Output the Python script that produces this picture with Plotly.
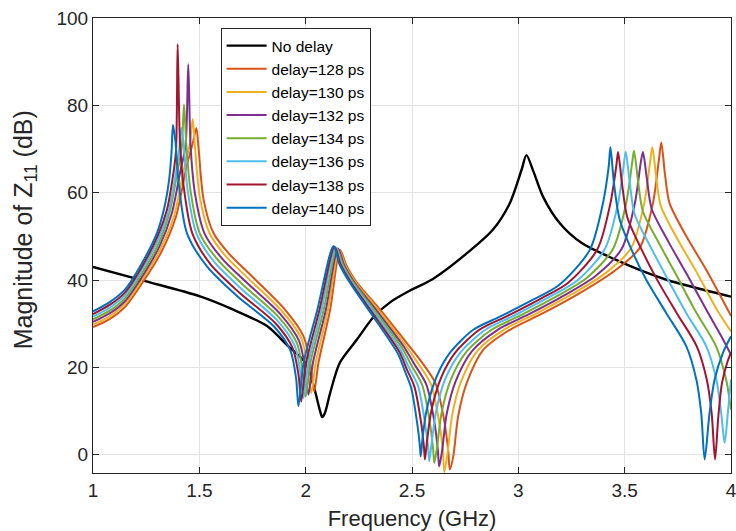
import plotly.graph_objects as go

# frequency (GHz) / magnitude (dB)
freq_nodelay = [1.000, 1.250, 1.500, 1.660, 1.820, 1.910, 2.000, 2.040, 2.065, 2.078, 2.090, 2.115, 2.160, 2.240,
                2.320, 2.400, 2.480, 2.600, 2.760, 2.880, 2.960, 3.015, 3.038, 3.070, 3.116, 3.195, 3.300, 3.460,
                3.570, 3.700, 3.850, 4.000]
mag_nodelay = [43.0, 39.7, 36.3, 33.2, 29.4, 25.2, 21.0, 15.3, 10.5, 8.6, 9.5, 14.1, 21.0, 26.3,
               31.6, 35.0, 37.3, 40.3, 46.2, 51.5, 57.6, 65.2, 68.6, 65.0, 59.1, 53.0, 48.4, 44.6,
               42.3, 40.0, 38.0, 36.2]

freq_128 = [1.000, 1.080, 1.150, 1.230, 1.320, 1.390, 1.440, 1.470, 1.486, 1.497, 1.520, 1.567, 1.640, 1.740,
            1.896, 1.990, 2.021, 2.040, 2.060, 2.115, 2.162, 2.190, 2.232, 2.350, 2.475, 2.538, 2.610, 2.648,
            2.670, 2.678, 2.694, 2.717, 2.757, 2.835, 2.960, 3.116, 3.289, 3.450, 3.570, 3.633, 3.661, 3.672,
            3.690, 3.711, 3.790, 3.884, 4.000]
mag_128 = [29.2, 31.1, 33.8, 39.2, 46.3, 54.5, 66.0, 71.5, 74.8, 69.8, 58.4, 50.7, 46.0, 41.2,
           33.6, 27.1, 21.0, 14.5, 21.0, 33.2, 46.9, 43.5, 40.0, 33.2, 25.6, 21.7, 16.4, 8.8,
           1.1, -3.4, -0.4, 8.8, 16.4, 24.0, 28.6, 32.4, 37.0, 42.0, 47.3, 57.6, 67.5, 71.5,
           64.0, 57.6, 50.0, 42.3, 31.8]

freq_130 = [1.000, 1.080, 1.150, 1.228, 1.317, 1.382, 1.428, 1.455, 1.469, 1.480, 1.502, 1.548, 1.623, 1.730,
            1.888, 1.980, 2.008, 2.026, 2.047, 2.105, 2.157, 2.185, 2.228, 2.345, 2.468, 2.523, 2.588, 2.624,
            2.645, 2.652, 2.667, 2.689, 2.730, 2.809, 2.931, 3.082, 3.252, 3.407, 3.529, 3.592, 3.620, 3.630,
            3.648, 3.670, 3.748, 3.837, 3.936, 4.000]
mag_130 = [29.8, 31.75, 34.47, 39.83, 47.03, 54.83, 65.5, 71.1, 76.9, 70.17, 59.03, 50.7, 45.52, 40.37,
           32.9, 26.58, 20.42, 14.1, 21.0, 33.2, 47.0, 43.5, 39.88, 32.93, 25.17, 21.3, 16.25, 8.5,
           1.25, -4.0, 0.33, 9.05, 16.65, 23.88, 28.6, 32.27, 36.75, 41.47, 47.23, 57.6, 67.25, 70.4,
           63.67, 56.97, 49.37, 41.92, 33.0, 28.2]

freq_132 = [1.000, 1.080, 1.150, 1.227, 1.313, 1.370, 1.411, 1.435, 1.448, 1.459, 1.480, 1.524, 1.605, 1.720,
            1.881, 1.969, 1.997, 2.013, 2.034, 2.095, 2.152, 2.180, 2.224, 2.339, 2.462, 2.509, 2.567, 2.603,
            2.621, 2.628, 2.642, 2.663, 2.706, 2.783, 2.903, 3.048, 3.216, 3.363, 3.486, 3.548, 3.576, 3.586,
            3.604, 3.627, 3.706, 3.790, 3.886, 3.950, 4.000]
mag_132 = [30.4, 32.4, 35.13, 40.47, 47.77, 55.17, 65.0, 70.7, 89.4, 70.53, 59.67, 50.7, 45.03, 39.53,
           32.2, 26.07, 19.83, 13.7, 21.0, 33.2, 47.2, 43.5, 39.77, 32.67, 24.73, 20.9, 16.1, 8.2,
           1.4, -2.7, 1.07, 9.3, 16.9, 23.77, 28.6, 32.13, 36.5, 40.93, 47.17, 57.6, 67.0, 69.3,
           63.33, 56.33, 48.73, 41.53, 33.0, 27.5, 22.9]

freq_134 = [1.000, 1.080, 1.150, 1.225, 1.310, 1.360, 1.396, 1.417, 1.428, 1.439, 1.459, 1.502, 1.588, 1.710,
            1.873, 1.959, 1.985, 2.000, 2.022, 2.085, 2.146, 2.175, 2.221, 2.334, 2.455, 2.497, 2.548, 2.582,
            2.599, 2.605, 2.618, 2.639, 2.682, 2.757, 2.874, 3.015, 3.179, 3.320, 3.445, 3.507, 3.535, 3.544,
            3.562, 3.586, 3.665, 3.743, 3.836, 3.930, 3.977, 4.000]
mag_134 = [31.0, 33.05, 35.8, 41.1, 48.5, 55.5, 64.5, 70.25, 80.2, 70.9, 60.3, 50.7, 44.55, 38.7,
           31.5, 25.55, 19.25, 13.3, 21.0, 33.2, 47.3, 43.5, 39.65, 32.4, 24.3, 20.5, 15.95, 7.9,
           1.55, -1.9, 1.8, 9.55, 17.15, 23.65, 28.6, 32.0, 36.25, 40.4, 47.1, 57.6, 66.75, 69.6,
           63.0, 55.7, 48.1, 41.15, 32.6, 24.8, 17.2, 10.3]

freq_136 = [1.000, 1.080, 1.150, 1.223, 1.307, 1.356, 1.388, 1.405, 1.415, 1.426, 1.444, 1.486, 1.571, 1.700,
            1.865, 1.948, 1.976, 1.990, 2.013, 2.075, 2.141, 2.170, 2.217, 2.329, 2.448, 2.484, 2.528, 2.560,
            2.576, 2.581, 2.592, 2.613, 2.657, 2.730, 2.845, 2.981, 3.142, 3.277, 3.406, 3.469, 3.496, 3.505,
            3.523, 3.547, 3.623, 3.696, 3.790, 3.884, 3.931, 3.954, 3.970, 3.985, 4.000]
mag_136 = [31.6, 33.7, 36.47, 41.73, 49.23, 55.83, 64.0, 69.8, 74.8, 71.27, 60.93, 50.7, 44.07, 37.87,
           30.8, 25.03, 18.67, 13.0, 21.0, 33.2, 47.5, 43.5, 39.53, 32.13, 23.87, 20.1, 15.8, 7.6,
           1.7, -1.5, 2.53, 9.8, 17.4, 23.53, 28.6, 31.87, 36.0, 39.87, 47.03, 57.6, 66.5, 69.4,
           62.67, 55.07, 47.47, 40.77, 32.4, 24.8, 17.2, 9.5, 2.7, 9.5, 17.2]

freq_138 = [1.000, 1.080, 1.150, 1.222, 1.303, 1.348, 1.375, 1.390, 1.398, 1.409, 1.426, 1.467, 1.553, 1.690,
            1.858, 1.938, 1.967, 1.979, 2.002, 2.065, 2.136, 2.165, 2.213, 2.323, 2.442, 2.474, 2.511, 2.543,
            2.556, 2.561, 2.571, 2.591, 2.637, 2.704, 2.817, 2.947, 3.106, 3.233, 3.371, 3.433, 3.461, 3.469,
            3.487, 3.512, 3.581, 3.649, 3.745, 3.839, 3.886, 3.909, 3.925, 3.940, 3.958, 3.985, 4.000]
mag_138 = [32.2, 34.35, 37.13, 42.37, 49.97, 56.17, 63.5, 69.4, 94.0, 71.63, 61.57, 50.7, 43.58, 37.03,
           30.1, 24.52, 18.08, 12.2, 21.0, 33.2, 47.6, 43.5, 39.42, 31.87, 23.43, 19.7, 15.65, 7.3,
           1.85, -1.1, 3.27, 10.05, 17.65, 23.42, 28.6, 31.73, 35.75, 39.33, 46.97, 57.6, 66.25, 69.3,
           62.33, 54.43, 46.83, 40.38, 32.4, 24.8, 17.2, 9.5, -1.1, 8.5, 16.5, 21.5, 23.3]

freq_140 = [1.000, 1.080, 1.150, 1.220, 1.300, 1.335, 1.358, 1.369, 1.376, 1.387, 1.403, 1.442, 1.536, 1.680,
            1.850, 1.927, 1.955, 1.966, 1.990, 2.055, 2.131, 2.160, 2.209, 2.318, 2.435, 2.465, 2.495, 2.525,
            2.537, 2.541, 2.550, 2.569, 2.616, 2.678, 2.788, 2.913, 3.069, 3.190, 3.336, 3.398, 3.425, 3.433,
            3.450, 3.477, 3.539, 3.602, 3.696, 3.790, 3.837, 3.860, 3.876, 3.899, 3.923, 3.962, 4.000]
mag_140 = [32.8, 35.0, 37.8, 43.0, 50.7, 56.5, 63.0, 69.0, 75.5, 72.0, 62.2, 50.7, 43.1, 36.2,
           29.4, 24.0, 17.5, 11.1, 21.0, 33.2, 47.8, 43.5, 39.3, 31.6, 23.0, 19.3, 15.5, 7.0,
           2.0, -0.4, 4.0, 10.3, 17.9, 23.3, 28.6, 31.6, 35.5, 38.8, 46.9, 57.6, 66.0, 70.4,
           62.0, 53.8, 46.2, 40.0, 32.4, 24.8, 17.2, 9.5, -1.1, 9.5, 17.2, 23.3, 27.1]

x_ticks = [1, 1.5, 2, 2.5, 3, 3.5, 4]
x_tick_labels = ['1', '1.5', '2', '2.5', '3', '3.5', '4']
y_ticks = [0, 20, 40, 60, 80, 100]

series = [
    ('No delay', freq_nodelay, mag_nodelay, '#000000'),
    ('delay=128 ps', freq_128, mag_128, '#D95319'),
    ('delay=130 ps', freq_130, mag_130, '#EDB120'),
    ('delay=132 ps', freq_132, mag_132, '#7E2F8E'),
    ('delay=134 ps', freq_134, mag_134, '#77AC30'),
    ('delay=136 ps', freq_136, mag_136, '#4DBEEE'),
    ('delay=138 ps', freq_138, mag_138, '#A2142F'),
    ('delay=140 ps', freq_140, mag_140, '#0072BD'),
]

font_family = 'Liberation Sans, Arial, Helvetica, sans-serif'
axis_color = '#262626'

fig = go.Figure()
for name, xs, ys, color in series:
    fig.add_trace(go.Scatter(x=xs, y=ys, name=name, mode='lines',
                             line=dict(color=color, width=2.4 if name == 'No delay' else 2,
                                       shape='spline', smoothing=0.8)))

axis_common = dict(
    showline=True, linecolor=axis_color, linewidth=1, mirror='ticks',
    ticks='inside', ticklen=6, tickcolor=axis_color,
    showgrid=True, gridcolor='#e3e3e3', gridwidth=1,
    zeroline=False, automargin=False, ticklabeloverflow='allow',
    tickfont=dict(family=font_family, size=19, color=axis_color),
)

fig.update_xaxes(range=[1, 4], tickvals=x_ticks, ticktext=x_tick_labels,
                 title=dict(text='Frequency (GHz)', standoff=10,
                            font=dict(family=font_family, size=22, color=axis_color)),
                 **axis_common)
fig.update_yaxes(range=[-4.2, 100.01], tickvals=y_ticks, **axis_common)

# y title as a rotated annotation so it can sit a little above the axis centre
fig.add_annotation(text='Magnitude of Z<sub>11</sub> (dB)', textangle=-90,
                   xref='paper', yref='paper', x=-0.107, y=0.535,
                   xanchor='center', yanchor='middle', showarrow=False,
                   font=dict(family=font_family, size=25, color=axis_color))

fig.update_layout(
    width=736, height=531,
    margin=dict(l=93, r=5, t=18, b=58),
    plot_bgcolor='white', paper_bgcolor='white',
    font=dict(family=font_family, color=axis_color),
    legend=dict(x=0.2, y=0.978, xanchor='left', yanchor='top',
                bgcolor='white', bordercolor=axis_color, borderwidth=1,
                font=dict(family=font_family, size=15.5, color='#000000'),
                itemwidth=40, tracegroupgap=0),
    showlegend=True,
)

# drop the default 8px page margin so the figure sits at the window origin
fig.write_html("out.html", config={'displayModeBar': False},
               post_script="document.body.style.margin = '0px';")
